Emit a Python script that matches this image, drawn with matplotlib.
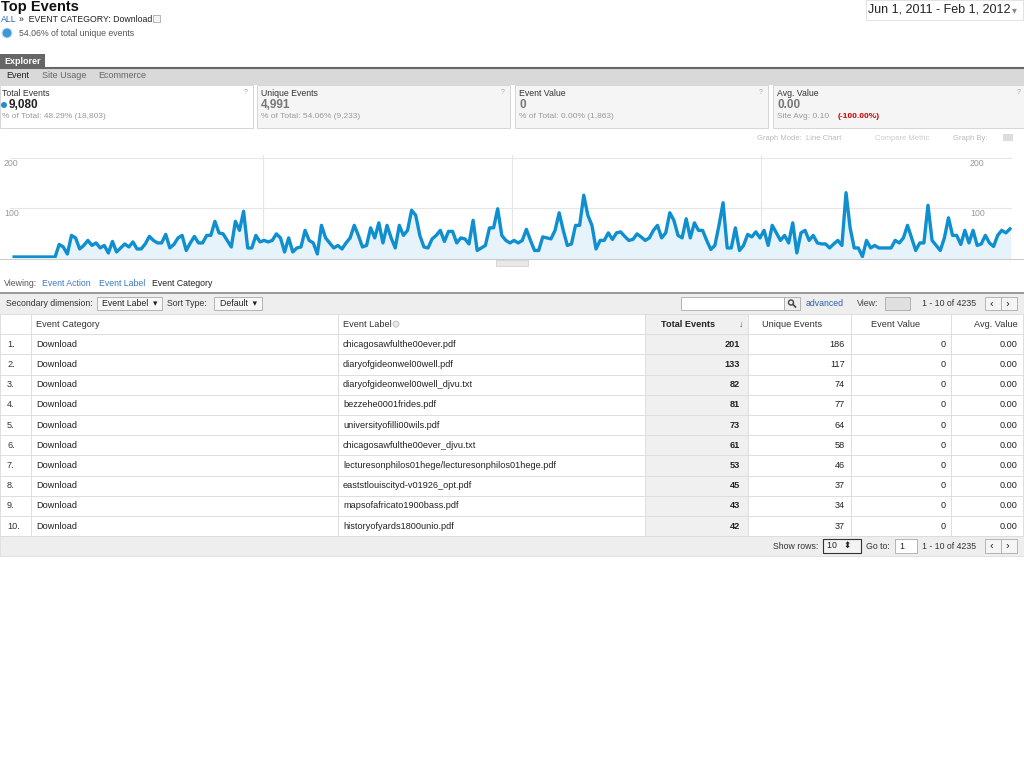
import matplotlib
matplotlib.use("Agg")
import matplotlib.pyplot as plt
from matplotlib.patches import Rectangle, Circle
import numpy as np

plt.rcParams['font.family'] = ['Liberation Sans', 'DejaVu Sans']

# ---- data ----
daily_events = [2]*11 + [
 27,22,8,45,40,18,25,35,25,30,20,25,10,33,12,20,28,22,32,18,18,28,43,35,30,30,47,20,27,40,45,15,30,43,30,30,45,45,73,50,48,35,22,73,55,93,20,20,45,32,35,32,35,48,40,12,40,12,20,22,55,35,30,8,65,40,30,20,25,18,30,40,65,45,22,25,60,40,70,30,65,40,20,65,45,55,95,85,45,22,20,38,45,55,33,53,53,30,40,38,28,75,15,20,25,60,60,98,45,35,30,
 35,30,35,57,35,15,15,42,40,38,55,90,55,25,28,65,65,125,85,65,18,35,35,50,37,50,52,43,35,37,48,42,35,40,55,65,40,50,90,75,45,40,78,40,70,55,55,35,17,25,65,110,20,20,60,15,25,47,42,52,40,55,25,65,50,35,45,30,70,10,50,55,35,45,30,28,28,20,28,35,25,130,60,20,20,3,35,20,25,20,20,20,20,35,30,40,65,40,15,30,30,105,35,25,15,40,80,45,45,27,55,30,55,25,28,45,30,23,45,55,50,58]
y_ticks = [100, 200]

metric_names = ["Total Events", "Unique Events", "Event Value", "Avg. Value"]
metric_values = ["9,080", "4,991", "0", "0.00"]
metric_subs = ["% of Total: 48.29% (18,803)", "% of Total: 54.06% (9,233)",
               "% of Total: 0.00% (1,863)", "Site Avg: 0.10 "]

col_headers = ["Event Category", "Event Label", "Total Events", "Unique Events", "Event Value", "Avg. Value"]
categories = ["Download"]*10
labels = ["chicagosawfulthe00ever.pdf", "diaryofgideonwel00well.pdf", "diaryofgideonwel00well_djvu.txt",
          "bezzehe0001frides.pdf", "universityofilli00wils.pdf", "chicagosawfulthe00ever_djvu.txt",
          "lecturesonphilos01hege/lecturesonphilos01hege.pdf", "eaststlouiscityd-v01926_opt.pdf",
          "mapsofafricato1900bass.pdf", "historyofyards1800unio.pdf"]
total_events = [201, 133, 82, 81, 73, 61, 53, 45, 43, 42]
unique_events = [186, 117, 74, 77, 64, 58, 46, 37, 34, 37]
event_values = [0]*10
avg_values = ["0.00"]*10

fig = plt.figure(figsize=(10.24, 7.68), dpi=100)

# chart
ax = fig.add_axes([10/1024, 1 - 258/768, 1002/1024, 103/768])
x = np.arange(len(daily_events))
ax.fill_between(x, daily_events, color='#e6f3fb')
ax.plot(x, daily_events, color='#0f8fd0', lw=2.4, solid_joinstyle='round')
ax.set_xlim(-1, len(daily_events) - 0.5)
ax.set_ylim(0, 205)
ax.patch.set_visible(False)
for s in ax.spines.values():
    s.set_visible(False)
ax.set_xticks([]); ax.set_yticks([])
for v in y_ticks:
    ax.axhline(v, color='#e6e6e6', lw=0.8, zorder=0)
n = len(daily_events)
for frac in [0.25, 0.5, 0.75]:
    ax.axvline((n - 1) * frac, color='#e6e6e6', lw=0.8, zorder=0)

ov = fig.add_axes([0, 0, 1, 1])
ov.set_xlim(0, 1024); ov.set_ylim(768, 0); ov.axis('off')
ov.patch.set_visible(False)

def T(x, y, s, size=6.6, color='#333333', **kw):
    ov.text(x, y, s, fontsize=size, color=color, va='center', **kw)

def R(x, y, w, h, fc, ec='none', lw=0.8, z=0):
    ov.add_patch(Rectangle((x, y), w, h, facecolor=fc, edgecolor=ec, lw=lw, zorder=z))

for v, yl in zip(y_ticks, [214, 164]):
    T(4, yl, str(v), 6.3, '#999999')
    T(970, yl, str(v), 6.3, '#999999')

# header
T(1, 7, "Top Events", 10.5, '#111111', weight='bold')
T(1, 19, "ALL", 6.3, '#2a64b4')
T(19, 19, "»  EVENT CATEGORY: Download", 6.3, '#222222')
R(153, 15, 7, 7, '#f4f4f4', '#999999', 0.5)
ov.add_patch(Circle((7, 33), 5, facecolor='#3a9ad9', edgecolor='#cce4f5', lw=0.8))
T(19, 33, "54.06% of total unique events", 6.3, '#555555')
R(866, 0, 157, 20, '#ffffff', '#dddddd', 0.6)
T(868, 10, "Jun 1, 2011 - Feb 1, 2012", 9, '#222222')
T(1012, 10, "▾", 7, '#888888')

# explorer tabs
R(0, 54, 45, 14, '#666666')
T(4, 61, "Explorer", 6.5, 'white', weight='bold')
R(0, 68, 1024, 17, '#d9d9d9')
ov.plot([0, 1024], [68, 68], color='#666666', lw=1.5)
T(6, 76, "Event", 6.5, '#222222')
T(42, 76, "Site Usage", 6.5, '#666666')
T(98, 76, "Ecommerce", 6.5, '#666666')

# metric boxes
box_x = [0, 257, 515, 773]
for i, bx in enumerate(box_x):
    R(bx, 85, 253, 43, '#ffffff' if i == 0 else '#f5f5f5', '#d0d0d0', 0.6)
    T(bx + 2 + (0 if i == 0 else 2), 93, metric_names[i], 6.3, '#333333')
    T(bx + (9 if i == 0 else 4), 105, metric_values[i], 8.5, '#222222' if i == 0 else '#777777', weight='bold')
    T(bx + 2 + (0 if i == 0 else 2), 117, metric_subs[i], 6.0, '#999999')
    T(bx + 244, 93, "?", 5, '#aaaaaa')
ov.add_patch(Circle((4, 105), 2.3, color='#1f8fcf'))
T(838, 117, "(-100.00%)", 6.0, '#cc0000', weight='bold')
T(757, 138, "Graph Mode:  Line Chart", 5.5, '#bbbbbb')
T(875, 138, "Compare Metric", 5.5, '#cccccc')
T(953, 138, "Graph By:", 5.5, '#bbbbbb')
R(1003, 134, 10, 7, '#dddddd')

ov.plot([0, 1024], [259, 259], color='#cccccc', lw=0.8)
R(496, 260, 32, 6, '#e8e8e8', '#cccccc', 0.5)

# viewing
T(4, 284, "Viewing:", 6.3, '#555555')
T(42, 284, "Event Action", 6.3, '#3c78c3')
T(99, 284, "Event Label", 6.3, '#3c78c3')
T(152, 284, "Event Category", 6.3, '#222222')
ov.plot([0, 1024], [293, 293], color='#888888', lw=1.2)
R(0, 294, 1024, 20, '#eeeeee')
T(6, 303, "Secondary dimension:", 6.3, '#333333')
R(97, 297, 65, 13, '#f7f7f7', '#aaaaaa', 0.6)
T(102, 304, "Event Label  ▾", 6.3, '#222222')
T(167, 303, "Sort Type:", 6.3, '#333333')
R(214, 297, 48, 13, '#f7f7f7', '#aaaaaa', 0.6)
T(220, 304, "Default  ▾", 6.3, '#222222')
R(681, 297, 103, 13, '#ffffff', '#aaaaaa', 0.6)
R(784, 297, 16, 13, '#eeeeee', '#aaaaaa', 0.6)
ov.add_patch(Circle((791, 302.5), 2.5, facecolor='none', edgecolor='#444444', lw=1))
ov.plot([793, 795.5], [304.5, 307], color='#444444', lw=1.2)
T(806, 304, "advanced", 6.3, '#2a64b4')
T(857, 304, "View:", 6.3, '#444444')
R(885, 297, 25, 13, '#e0e0e0', '#aaaaaa', 0.6)
T(922, 304, "1 - 10 of 4235", 6.3, '#333333')
R(985, 297, 16, 13, '#f5f5f5', '#aaaaaa', 0.6)
R(1001, 297, 16, 13, '#f5f5f5', '#aaaaaa', 0.6)
T(989, 304, "‹", 8, '#222222'); T(1005, 304, "›", 8, '#222222')

# table
row_h = 20.2
top = 314
R(645, top, 103, row_h * 11, '#f0f0f0')
vlines = [0, 31, 338, 645, 748, 851, 951, 1023]
for i in range(12):
    ov.plot([0, 1023], [top + i * row_h] * 2, color='#dddddd', lw=0.7)
for xv in vlines:
    ov.plot([xv, xv], [top, top + row_h * 11], color='#dddddd', lw=0.7)
hy = top + row_h / 2
T(36, hy, col_headers[0]); T(343, hy, col_headers[1])
ov.add_patch(Circle((396, hy), 3, facecolor='#e8e8e8', edgecolor='#bbbbbb', lw=0.6))
T(715, hy, col_headers[2], ha='right', weight='bold', color='#222222')
T(739, hy, "↓", 6.3, '#555555')
T(822, hy, col_headers[3], ha='right')
T(920, hy, col_headers[4], ha='right')
T(1018, hy, col_headers[5], ha='right')
for i in range(10):
    yy = top + (i + 1.5) * row_h
    T(7, yy, f"{i+1}.")
    T(36, yy, categories[i], color='#222222')
    T(343, yy, labels[i], color='#222222')
    T(740, yy, str(total_events[i]), ha='right', weight='bold', color='#222222')
    T(845, yy, str(unique_events[i]), ha='right', color='#222222')
    T(946, yy, str(event_values[i]), ha='right', color='#222222')
    T(1018, yy, avg_values[i], ha='right', color='#222222')
fy = top + row_h * 11
R(0, fy, 1024, 20, '#eeeeee', '#dddddd', 0.6)
T(773, fy + 10, "Show rows:", 6.3, '#333333')
R(823, fy + 3, 38, 14, '#f3f3f3', '#333333', 0.8)
T(827, fy + 10, "10   ⬍", 6.3, '#222222')
T(866, fy + 10, "Go to:", 6.3, '#333333')
R(895, fy + 3, 22, 14, '#ffffff', '#aaaaaa', 0.6)
T(899, fy + 10, "1", 6.3, '#222222')
T(922, fy + 10, "1 - 10 of 4235", 6.3, '#333333')
R(985, fy + 3, 16, 14, '#f5f5f5', '#aaaaaa', 0.6)
R(1001, fy + 3, 16, 14, '#f5f5f5', '#aaaaaa', 0.6)
T(989, fy + 10, "‹", 8, '#222222'); T(1005, fy + 10, "›", 8, '#222222')

fig.savefig("out.png", dpi=100)
